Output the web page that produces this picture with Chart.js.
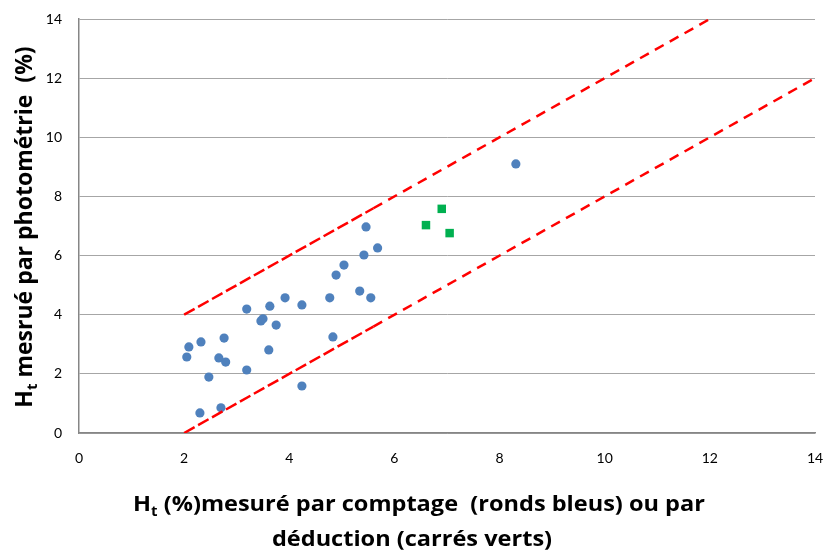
<!DOCTYPE html>
<html>
<head>
<meta charset="utf-8">
<script src="https://cdn.jsdelivr.net/npm/chart.js@4/dist/chart.umd.min.js"></script>
<style>
  body { margin: 0; background: #fff; }
  #wrap { width: 825px; height: 550px; }
</style>
</head>
<body>
<div id="wrap"><canvas id="chart" width="825" height="550"></canvas></div>
<script>
// blue dots: counted (comptage)
const blueX = [2.05, 2.09, 2.32, 2.76, 2.66, 2.79, 2.47, 3.19, 2.30, 2.70,
               3.19, 3.46, 3.50, 3.63, 3.75, 3.92, 3.61, 4.24, 4.24, 4.77,
               4.83, 4.89, 5.04, 5.34, 5.42, 5.46, 5.55, 5.68, 8.31];
const blueY = [2.57, 2.91, 3.08, 3.21, 2.54, 2.40, 1.89, 2.13, 0.68, 0.85,
               4.19, 3.79, 3.86, 4.29, 3.65, 4.57, 2.81, 4.33, 1.59, 4.57,
               3.25, 5.34, 5.68, 4.80, 6.02, 6.97, 4.57, 6.26, 9.10];

// green squares: deduced (déduction)
const greenX = [6.60, 6.90, 7.05];
const greenY = [7.03, 7.58, 6.76];

// red dashed limits (y = x + 2 and y = x - 2), dense dashes up to x = 5.6
const upperDenseX = [2, 5.6];
const upperDenseY = [4, 7.6];
const upperX = [5.6, 12];
const upperY = [7.6, 14];
const lowerDenseX = [2, 5.6];
const lowerDenseY = [0, 3.6];
const lowerX = [5.6, 14];
const lowerY = [3.6, 12];

const xTicks = [0, 2, 4, 6, 8, 10, 12, 14];
const yTicks = [0, 2, 4, 6, 8, 10, 12, 14];

const pts = (xs, ys) => xs.map((x, i) => ({ x: x, y: ys[i] }));

const redLine = (xs, ys, dash) => ({
  data: pts(xs, ys),
  showLine: true,
  borderColor: '#FF0000',
  borderWidth: 2.5,
  borderDash: dash,
  pointRadius: 0,
  fill: false
});

// axis titles with subscript t
const axisTitles = {
  id: 'axisTitles',
  afterDraw(chart) {
    const ctx = chart.ctx;

    function measure(parts, big, small) {
      let w = 0;
      parts.forEach(p => { ctx.font = p.sub ? small : big; w += ctx.measureText(p.t).width; });
      return w;
    }
    // draw a centred line; sx stretches it horizontally
    function drawLine(parts, cx, baseline, big, small, sx) {
      const w = measure(parts, big, small);
      ctx.save();
      ctx.translate(cx, baseline);
      ctx.scale(sx, 1);
      let x = -w / 2;
      parts.forEach(p => {
        ctx.font = p.sub ? small : big;
        ctx.fillText(p.t, x, p.sub ? 5 : 0);
        x += ctx.measureText(p.t).width;
      });
      ctx.restore();
    }

    ctx.save();
    ctx.fillStyle = '#000';
    ctx.textAlign = 'left';
    ctx.textBaseline = 'alphabetic';

    const xBig = 'bold 22px "Open Sans"', xSmall = 'bold 14px "Open Sans"';
    drawLine([{ t: 'H' }, { t: 't', sub: true }, { t: ' (%)mesuré par comptage  (ronds bleus) ou par' }],
             419, 511, xBig, xSmall, 1.07);
    drawLine([{ t: 'déduction (carrés verts)' }], 412, 546, xBig, xSmall, 1.07);

    ctx.translate(32, 227);
    ctx.rotate(-Math.PI / 2);
    drawLine([{ t: 'H' }, { t: 't', sub: true }, { t: ' mesrué par photométrie  (%)' }], 0, 0,
             'bold 23px "Open Sans"', 'bold 15px "Open Sans"', 1);
    ctx.restore();
  }
};

new Chart(document.getElementById('chart'), {
  type: 'scatter',
  data: {
    datasets: [
      redLine(upperDenseX, upperDenseY, [12, 4]),
      redLine(upperX, upperY, [10, 7]),
      redLine(lowerDenseX, lowerDenseY, [12, 4]),
      redLine(lowerX, lowerY, [10, 7]),
      {
        data: pts(blueX, blueY),
        pointStyle: 'circle',
        pointRadius: 4.6,
        backgroundColor: '#4F81BD',
        borderColor: '#4F81BD',
        borderWidth: 0
      },
      {
        data: pts(greenX, greenY),
        pointStyle: 'rect',
        pointRadius: 6,
        backgroundColor: '#00B050',
        borderColor: '#00B050',
        borderWidth: 0
      }
    ]
  },
  options: {
    responsive: false,
    animation: false,
    layout: { padding: { top: 19, right: 10, left: 0, bottom: 0 } },
    plugins: {
      legend: { display: false },
      tooltip: { enabled: false }
    },
    scales: {
      x: {
        type: 'linear',
        min: 0,
        max: 14,
        afterBuildTicks: axis => { axis.ticks = xTicks.map(v => ({ value: v })); },
        afterFit: axis => { axis.height = 117; axis.paddingLeft = 0; axis.paddingRight = 0; },
        grid: { display: false, drawTicks: false },
        border: { display: true, color: '#868686', width: 1.5 },
        ticks: { padding: 17, color: '#000', font: { family: 'Lato', size: 14 } }
      },
      y: {
        type: 'linear',
        min: 0,
        max: 14,
        afterBuildTicks: axis => { axis.ticks = yTicks.map(v => ({ value: v })); },
        afterFit: axis => { axis.width = 79; axis.paddingTop = 0; axis.paddingBottom = 0; },
        grid: { color: '#A6A6A6', lineWidth: 1, drawTicks: false },
        border: { display: true, color: '#868686', width: 1.5 },
        ticks: { padding: 17, color: '#000', font: { family: 'Lato', size: 14 } }
      }
    }
  },
  plugins: [axisTitles]
});
</script>
</body>
</html>
